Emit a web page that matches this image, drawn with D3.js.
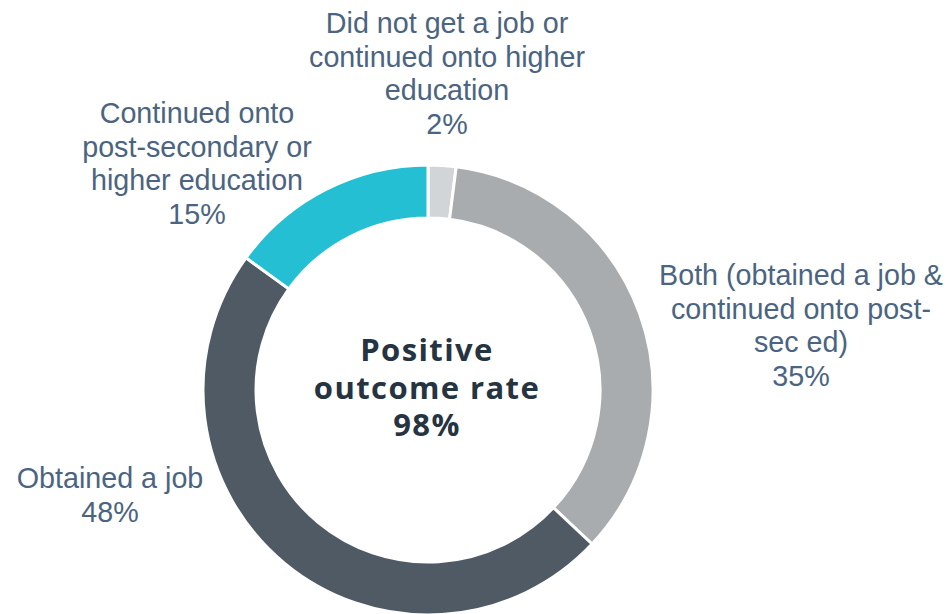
<!DOCTYPE html>
<html>
<head>
<meta charset="utf-8">
<script src="https://cdn.jsdelivr.net/npm/d3@7"></script>
<style>
  html, body { margin: 0; padding: 0; background: #ffffff; }
  svg { display: block; }
</style>
</head>
<body>
<svg id="chart" width="950" height="614"></svg>
<script>
// Outcome categories, clockwise from 12 o'clock
const categories = [
  "Did not get a job or continued onto higher education",
  "Both (obtained a job & continued onto post-sec ed)",
  "Obtained a job",
  "Continued onto post-secondary or higher education"
];
const shares = [2, 35, 48, 15];

// Label text, broken into lines as displayed
const labelLines = [
  ["Did not get a job or", "continued onto higher", "education"],
  ["Both (obtained a job &", "continued onto post-", "sec ed)"],
  ["Obtained a job"],
  ["Continued onto", "post-secondary or", "higher education"]
];

const centerLines = ["Positive", "outcome rate", "98%"];

// Styling and layout
const sliceColors = ["#d1d5d8", "#a8acaf", "#505a64", "#25bfd3"];
const labelAnchors = [
  { x: 447, y: 33 },
  { x: 801, y: 285 },
  { x: 110, y: 488 },
  { x: 197, y: 123 }
];
const cx = 428, cy = 390;
const outerR = 225, innerR = 172;
const lineH = 33.5;

const svg = d3.select("#chart");

const pie = d3.pie().sort(null).value(d => d);
const arc = d3.arc().innerRadius(innerR).outerRadius(outerR);

const ring = svg.append("g").attr("transform", `translate(${cx},${cy})`);
ring.selectAll("path")
  .data(pie(shares))
  .join("path")
  .attr("d", arc)
  .attr("fill", (d, i) => sliceColors[i])
  .attr("stroke", "#ffffff")
  .attr("stroke-width", 3)
  .attr("stroke-linejoin", "miter");

// Slice labels: category lines followed by the share
const fmt = d => `${d}%`;
const labels = svg.append("g")
  .attr("font-family", "'Liberation Sans', Arial, sans-serif")
  .attr("font-size", 28.7)
  .attr("fill", "#4b6481")
  .attr("text-anchor", "middle");

labels.selectAll("text")
  .data(categories.map((c, i) => ({ lines: labelLines[i].concat(fmt(shares[i])), pos: labelAnchors[i] })))
  .join("text")
  .attr("x", d => d.pos.x)
  .attr("y", d => d.pos.y)
  .selectAll("tspan")
  .data(d => d.lines.map((t, j) => ({ t, j, x: d.pos.x })))
  .join("tspan")
  .attr("x", d => d.x)
  .attr("dy", d => d.j === 0 ? 0 : lineH)
  .text(d => d.t);

// Headline in the middle of the ring
svg.append("text")
  .attr("font-family", "'Open Sans', Inter, sans-serif")
  .attr("font-weight", 700)
  .attr("font-size", 31)
  .attr("letter-spacing", 1.4)
  .attr("fill", "#263442")
  .attr("text-anchor", "middle")
  .selectAll("tspan")
  .data(centerLines)
  .join("tspan")
  .attr("x", cx - 1)
  .attr("y", (d, i) => 361 + i * 37.5)
  .text(d => d);
</script>
</body>
</html>
